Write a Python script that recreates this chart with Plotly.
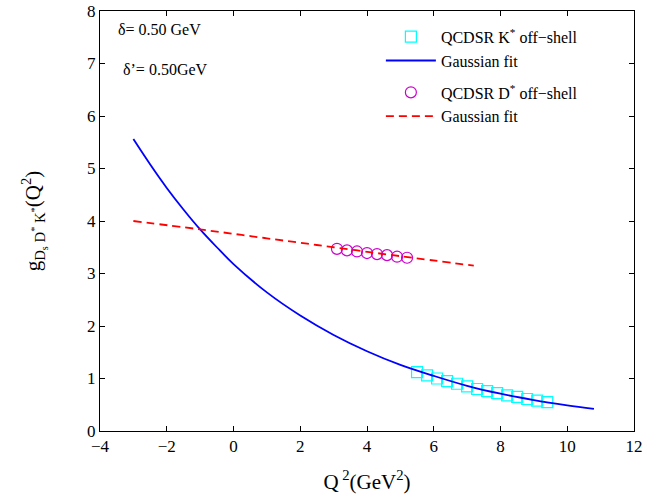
import plotly.graph_objects as go

# Gaussian fit, K* off-shell (blue)
fit_k_x = [-3, -2.5, -2, -1.5, -1, -0.5, 0, 1, 2, 3, 4, 5, 6, 7, 8, 9, 10, 10.8]
fit_k_y = [5.56, 5.08, 4.63, 4.22, 3.84, 3.50, 3.18, 2.64, 2.20, 1.83, 1.52, 1.26, 1.05, 0.86, 0.71, 0.59, 0.49, 0.42]

# QCDSR K* off-shell points (cyan squares)
k_x = [5.5, 5.8, 6.1, 6.4, 6.7, 7.0, 7.3, 7.6, 7.9, 8.2, 8.5, 8.8, 9.1, 9.4]
k_y = [1.12, 1.06, 1.00, 0.95, 0.90, 0.85, 0.80, 0.76, 0.72, 0.68, 0.65, 0.61, 0.58, 0.55]

# QCDSR D* off-shell points (magenta circles)
d_x = [3.1, 3.4, 3.7, 4.0, 4.3, 4.6, 4.9, 5.2]
d_y = [3.47, 3.44, 3.42, 3.39, 3.37, 3.35, 3.32, 3.30]

# Gaussian fit, D* off-shell (red dashed)
fit_d_x = [-3, -1, 1, 3, 5, 7.2]
fit_d_y = [4.00, 3.84, 3.67, 3.50, 3.33, 3.15]

x_ticks = [-4, -2, 0, 2, 4, 6, 8, 10, 12]
y_ticks = [0, 1, 2, 3, 4, 5, 6, 7, 8]

FONT = "Liberation Serif"

fig = go.Figure()
fig.add_trace(go.Scatter(
    x=k_x, y=k_y, mode="markers", name="QCDSR K<sup>*</sup> off−shell", legendgroup="k",
    marker=dict(symbol="square-open", size=11, color="#00FFFF", line=dict(width=1.2, color="#00FFFF"))))
fig.add_trace(go.Scatter(
    x=fit_k_x, y=fit_k_y, mode="lines", name="Gaussian fit", line_shape="spline", legendgroup="k",
    line=dict(color="#0000FF", width=1.8)))
fig.add_trace(go.Scatter(
    x=d_x, y=d_y, mode="markers", name="QCDSR D<sup>*</sup> off−shell", legendgroup="d",
    marker=dict(symbol="circle-open", size=11, color="#CC00CC", line=dict(width=1.2, color="#CC00CC"))))
fig.add_trace(go.Scatter(
    x=fit_d_x, y=fit_d_y, mode="lines", name="Gaussian fit", line_shape="spline", legendgroup="d",
    line=dict(color="#FF0000", width=1.8, dash="8px,5px")))

axis_common = dict(
    showgrid=False, zeroline=False, showline=True, linecolor="black", linewidth=1,
    mirror="allticks", ticks="inside", ticklen=5, tickcolor="black", automargin=False,
    tickfont=dict(family=FONT, size=17, color="black"))

fig.update_layout(
    width=657, height=498,
    margin=dict(l=100, r=23, t=11, b=67),
    paper_bgcolor="white", plot_bgcolor="white",
    font=dict(family=FONT, color="black"),
    xaxis=dict(range=[-4, 12], tickvals=x_ticks,
               ticktext=[str(v).replace("-", "−") for v in x_ticks],
               title=dict(text="Q<sup> 2</sup>(GeV<sup>2</sup>)", font=dict(family=FONT, size=21), standoff=18),
               **axis_common),
    yaxis=dict(range=[0, 8], tickvals=y_ticks,
               title=dict(text="g<sub>D<sub>s</sub> D<sup>*</sup> K<sup>*</sup></sub>(Q<sup>2</sup>)",
                          font=dict(family=FONT, size=21), standoff=40),
               **axis_common),
    legend=dict(x=0.526, y=0.979, xanchor="left", yanchor="top", itemwidth=50,
                traceorder="grouped", tracegroupgap=8,
                bgcolor="rgba(0,0,0,0)", font=dict(family=FONT, size=16)),
    showlegend=True,
    annotations=[
        dict(text="δ= 0.50 GeV", x=0.03, y=0.957, xref="paper", yref="paper",
             xanchor="left", yanchor="middle", showarrow=False, font=dict(family=FONT, size=16)),
        dict(text="δ’= 0.50GeV", x=0.04, y=0.860, xref="paper", yref="paper",
             xanchor="left", yanchor="middle", showarrow=False, font=dict(family=FONT, size=16)),
    ],
)

fig.write_html("out.html")
